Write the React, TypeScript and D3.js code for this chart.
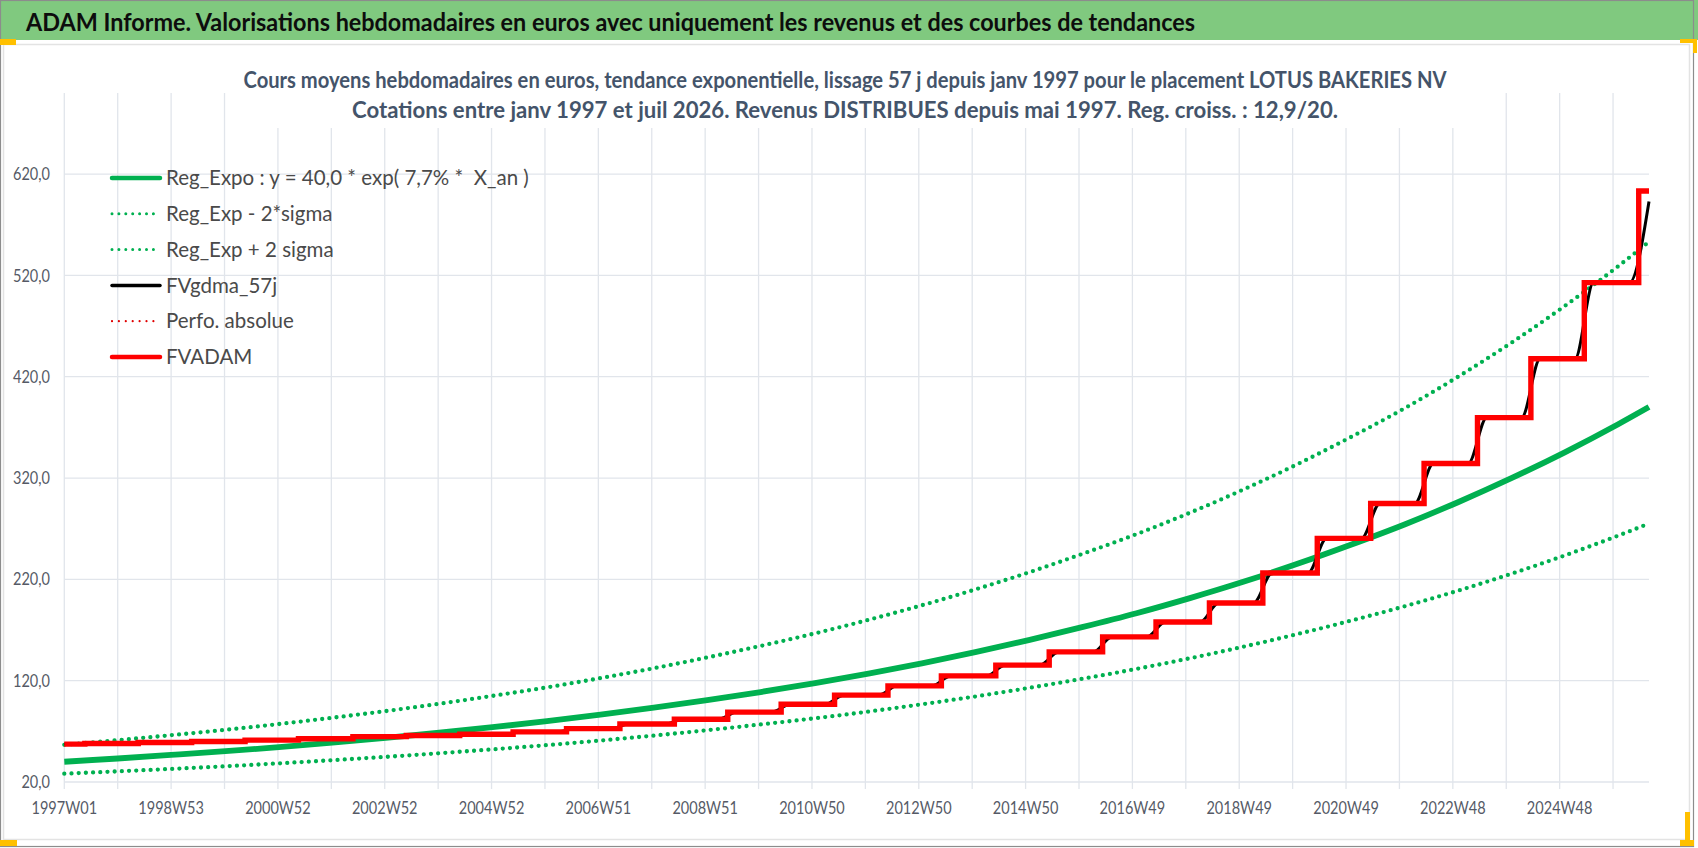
import React from 'react';
import * as d3 from 'd3';

// Page / frame
const W = 1698;
const H = 848;
const margin = { left: 64.3, right: 1649, top: 93, bottom: 782 };

// Categories: ISO weeks, index 0 = 1997W01
const xTickLabels = [
  '1997W01', '1998W53', '2000W52', '2002W52', '2004W52', '2006W51', '2008W51', '2010W50',
  '2012W50', '2014W50', '2016W49', '2018W49', '2020W49', '2022W48', '2024W48',
];
const labelEvery = 104;
const gridEvery = 52;
const lastWeek = 1543;

const yTicks = [20, 120, 220, 320, 420, 520, 620];
const yMin = 20;
const yMax = 700;

const trendWeeks = [
  0, 52, 104, 157, 209, 261, 313, 365, 417, 470, 522, 574, 626, 678, 731, 783,
  835, 887, 939, 991, 1044, 1096, 1148, 1200, 1252, 1305, 1357, 1409, 1461, 1513, 1543,
];
const regExpo = [
  40.0, 43.2, 46.7, 50.4, 54.4, 58.8, 63.5, 68.6, 74.1, 80.0, 86.4, 93.3, 100.8, 108.8, 117.6, 127.0,
  137.1, 148.1, 160.0, 172.8, 186.6, 201.5, 217.6, 235.1, 253.9, 274.2, 296.1, 319.8, 345.4, 373.1, 390.1,
];
const regLow = [
  28.2, 30.5, 32.9, 35.5, 38.4, 41.5, 44.8, 48.4, 52.2, 56.4, 60.9, 65.8, 71.1, 76.8, 82.9, 89.5,
  96.7, 104.4, 112.8, 121.8, 131.6, 142.1, 153.5, 165.8, 179.0, 193.4, 208.8, 225.5, 243.6, 263.1, 275.1,
];
const regHigh = [
  56.7, 61.3, 66.2, 71.5, 77.2, 83.4, 90.0, 97.2, 105.0, 113.4, 122.5, 132.3, 142.9, 154.3, 166.7, 180.0,
  194.4, 210.0, 226.8, 245.0, 264.6, 285.7, 308.6, 333.3, 360.0, 388.8, 419.9, 453.5, 489.8, 529.0, 553.2,
];

// FVADAM: value before the first dividend, then one step per yearly dividend (May)
const fvStart = 57.4;
const stepWeeks = [
  20, 72, 124, 176, 228, 281, 333, 385, 437, 489, 541, 594, 646, 698, 750,
  802, 854, 907, 959, 1011, 1063, 1115, 1167, 1220, 1272, 1324, 1376, 1428, 1480, 1533,
];
const stepLevels = [
  58.0, 59.0, 60.0, 61.3, 62.7, 64.8, 65.9, 67.2, 69.5, 72.7, 77.2, 82.0, 89.0, 96.8, 105.7,
  114.9, 124.7, 135.3, 148.4, 163.2, 177.9, 196.6, 226.2, 260.4, 294.9, 334.3, 379.6, 437.7, 512.9, 603.3,
];
// FVgdma_57j: smoothed FVADAM, last value on the chart
const fvgdmaEnd = 593;
const smoothHalf = 9;

const GREEN = '#00B050';
const RED = '#FF0000';
const GRID = '#E1E5EB';
const TICK_TXT = '#555A66';

const legendItems = [
  { label: 'Reg_Expo : y = 40,0 * exp( 7,7% *  X_an )', color: GREEN, width: 4.5, dots: false },
  { label: 'Reg_Exp - 2*sigma', color: GREEN, width: 3, dots: true },
  { label: 'Reg_Exp + 2 sigma', color: GREEN, width: 3, dots: true },
  { label: 'FVgdma_57j', color: '#000000', width: 3.5, dots: false },
  { label: 'Perfo. absolue', color: '#E00000', width: 2.2, dots: true },
  { label: 'FVADAM', color: RED, width: 4.5, dots: false },
];

type Pt = [number, number];

const App: React.FC = () => {
  const x = d3.scaleLinear().domain([0, lastWeek]).range([margin.left, margin.right]);
  const y = d3.scaleLinear().domain([yMin, yMax]).range([margin.bottom, margin.top]);

  const smooth = d3.line<Pt>().x(d => x(d[0])).y(d => y(d[1])).curve(d3.curveMonotoneX);
  const step = d3.line<Pt>().x(d => x(d[0])).y(d => y(d[1])).curve(d3.curveStepAfter);

  const trend = (vals: number[]) => trendWeeks.map((w, i) => [w, vals[i]] as Pt);

  const fvPts: Pt[] = [[0, fvStart]];
  stepWeeks.forEach((w, i) => fvPts.push([w, stepLevels[i]]));
  fvPts.push([lastWeek, stepLevels[stepLevels.length - 1]]);

  const gdmaPts: Pt[] = [[0, fvStart]];
  stepWeeks.forEach((w, i) => {
    const prev = i === 0 ? fvStart : stepLevels[i - 1];
    gdmaPts.push([w - smoothHalf, prev]);
    if (i < stepWeeks.length - 1) gdmaPts.push([w + smoothHalf, stepLevels[i]]);
  });
  gdmaPts.push([lastWeek, fvgdmaEnd]);

  const gridWeeks = d3.range(0, lastWeek + 1, gridEvery);

  const legendX = 112;
  const legendY0 = 178;
  const legendDy = 35.8;

  return (
    <svg
      width={W}
      height={H}
      style={{ position: 'absolute', left: 0, top: 0, background: '#fff' }}
      fontFamily="Lato, 'Open Sans', sans-serif"
    >
      {/* header bar */}
      <rect x={0} y={0} width={W} height={40} fill="#80C97F" />
      <text x={26} y={31} fontSize={24.5} fontWeight="bold" fill="#0d0d0d"
        textLength={1169} lengthAdjust="spacingAndGlyphs">
        ADAM Informe. Valorisations hebdomadaires en euros avec uniquement les revenus et des courbes de tendances
      </text>

      {/* frames */}
      <rect x={3.5} y={44.5} width={1686} height={795} fill="none" stroke="#E3E3E3" strokeWidth={1.5} />
      <rect x={0.5} y={0.5} width={1693} height={846} fill="none" stroke="#8C8C8C" strokeWidth={1.2} />

      {/* grid */}
      <g stroke={GRID} strokeWidth={1.3}>
        {gridWeeks.map(w => (
          <line key={'v' + w} x1={x(w)} x2={x(w)} y1={margin.top} y2={margin.bottom + 7} />
        ))}
        {yTicks.map(t => (
          <line key={'h' + t} x1={margin.left} x2={margin.right} y1={y(t)} y2={y(t)} />
        ))}
      </g>

      {/* title box hides the grid behind it */}
      <rect x={240} y={46} width={1240} height={82} fill="#fff" />
      <text x={845} y={88} textAnchor="middle" fontSize={22} fontWeight="bold" fill="#44546A"
        textLength={1203} lengthAdjust="spacingAndGlyphs">
        Cours moyens hebdomadaires en euros, tendance exponentielle, lissage 57 j depuis janv 1997 pour le placement LOTUS BAKERIES NV
      </text>
      <text x={845} y={118} textAnchor="middle" fontSize={22} fontWeight="bold" fill="#44546A"
        textLength={986} lengthAdjust="spacingAndGlyphs">
        Cotations entre janv 1997 et juil 2026. Revenus DISTRIBUES depuis mai 1997. Reg. croiss. : 12,9/20.
      </text>

      {/* y axis labels */}
      {yTicks.map(t => (
        <text key={'yl' + t} transform={`translate(50,${y(t)}) scale(0.83,1)`} textAnchor="end"
          dy="0.35em" fontSize={17.5} fill={TICK_TXT}>
          {d3.format('.1f')(t).replace('.', ',')}
        </text>
      ))}

      {/* x axis labels */}
      {xTickLabels.map((lab, i) => (
        <text key={lab} transform={`translate(${x(i * labelEvery)},814) scale(0.83,1)`} textAnchor="middle"
          fontSize={17.5} fill={TICK_TXT}>
          {lab}
        </text>
      ))}

      {/* series */}
      <g fill="none" strokeLinecap="round">
        <path d={smooth(trend(regLow)) || ''} stroke={GREEN} strokeWidth={4.3} strokeDasharray="0 7.2" />
        <path d={smooth(trend(regHigh)) || ''} stroke={GREEN} strokeWidth={4.3} strokeDasharray="0 7.2" />
        <path d={smooth(trend(regExpo)) || ''} stroke={GREEN} strokeWidth={5.8} strokeLinecap="butt" />
        <path d={smooth(gdmaPts) || ''} stroke="#000" strokeWidth={3} strokeLinecap="butt" />
        <path d={step(fvPts) || ''} stroke={RED} strokeWidth={5.4} strokeLinecap="butt" strokeLinejoin="miter" />
      </g>

      {/* legend */}
      {legendItems.map((it, i) => {
        const ly = legendY0 + i * legendDy;
        return (
          <g key={it.label}>
            <line x1={legendX} x2={legendX + 48} y1={ly} y2={ly} stroke={it.color} strokeWidth={it.width}
              strokeLinecap="round" strokeDasharray={it.dots ? '0 6.9' : undefined} />
            <text x={legendX + 54} y={ly} dy="0.35em" fontSize={20.5} fill="#4A4A4A"
              style={{ whiteSpace: 'pre' }}>{it.label}</text>
          </g>
        );
      })}

      {/* selection handles */}
      <g fill="#FFC000">
        <rect x={0} y={39} width={16} height={6} />
        <rect x={1680} y={39} width={17} height={4} />
        <rect x={1693} y={39} width={4} height={14} />
        <rect x={1685} y={812} width={5} height={34} />
        <rect x={1680} y={840} width={14} height={6} />
        <rect x={0} y={840} width={17} height={6} />
      </g>
    </svg>
  );
};

export default App;
